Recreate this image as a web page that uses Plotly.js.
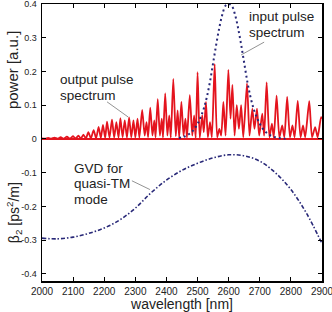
<!DOCTYPE html>
<html>
<head>
<meta charset="utf-8">
<script src="https://cdn.plot.ly/plotly-3.0.1.min.js"></script>
<style>html,body{margin:0;padding:0;background:#fff;}#chart{width:332px;height:312px;}</style>
</head>
<body>
<div id="chart"></div>
<script>
// Output pulse spectrum (wavelength nm, power a.u.)
const outWl = [2000,2010,2020,2030,2040,2050,2060,2070,2080,2090,2100,2108,2117,2125,2133,2141,2149,2157,2166,2174,2182,2189,2196,2203,2209,2217,2225,2232,2239,2246,2252,2259,2266,2273,2280,2287,2294,2300,2307,2313,2322,2330,2336,2341,2348,2355,2361,2365,2372,2379,2385,2389,2396,2403,2409,2414,2422,2430,2436,2441,2448,2455,2461,2466,2475,2483,2489,2494,2500,2507,2515,2520,2527,2533,2540,2546,2555,2563,2570,2576,2583,2590,2599,2606,2612,2619,2626,2633,2640,2647,2659,2667,2676,2683,2691,2698,2708,2714,2722,2731,2739,2745,2754,2763,2772,2779,2788,2797,2805,2812,2822,2831,2839,2846,2859,2868,2878,2886,2897,2900];
const outPow = [0.002,0.001,0.003,0.001,0.004,0.001,0.005,0.001,0.007,0.001,0.008,0.001,0.010,0.001,0.013,0.001,0.020,0.002,0.026,0.002,0.036,0.003,0.042,0.003,0.051,0.004,0.057,0.004,0.050,0.004,0.062,0.005,0.055,0.004,0.064,0.005,0.055,0.004,0.060,0.004,0.086,0.010,0.050,0.005,0.093,0.010,0.055,0.005,0.118,0.010,0.060,0.004,0.135,0.010,0.070,0.004,0.178,0.008,0.085,0.004,0.110,0.010,0.060,0.004,0.130,0.010,0.070,0.003,0.198,0.003,0.070,0.020,0.110,0.005,0.050,0.005,0.222,0.005,0.030,0.010,0.110,0.010,0.205,0.060,0.160,0.010,0.100,0.030,0.100,0.005,0.165,0.010,0.090,0.030,0.090,0.010,0.075,0.010,0.168,0.005,0.045,0.005,0.128,0.005,0.040,0.005,0.125,0.005,0.040,0.005,0.113,0.005,0.040,0.005,0.112,0.005,0.035,0.005,0.065,0.060];

// Input pulse spectrum
const inWl = [2440,2450,2460,2470,2480,2490,2500,2510,2520,2530,2540,2550,2560,2570,2580,2590,2600,2610,2620,2630,2640,2650,2660,2670,2680,2690,2700,2710,2720,2730,2740,2750,2760,2770,2780,2790];
const inPow = [0.003,0.005,0.008,0.013,0.020,0.030,0.045,0.065,0.090,0.125,0.170,0.225,0.280,0.330,0.370,0.395,0.400,0.395,0.370,0.330,0.280,0.225,0.170,0.125,0.090,0.065,0.045,0.030,0.020,0.013,0.008,0.005,0.003,0.002,0.001,0.000];

// GVD for quasi-TM mode (beta2, ps^2/m)
const gvdWl = [2000,2050,2100,2150,2200,2250,2300,2350,2400,2450,2500,2550,2600,2650,2700,2750,2800,2850,2900];
const gvdB2 = [-0.294,-0.296,-0.291,-0.280,-0.264,-0.240,-0.205,-0.160,-0.122,-0.093,-0.072,-0.056,-0.047,-0.050,-0.066,-0.100,-0.150,-0.220,-0.310];

// Ticks
const yTickVals = [0.4,0.3,0.2,0.1,0,-0.1,-0.2,-0.3,-0.4];
const yTickText = ["0.4","0.3","0.2","0.1","0","-0.1","-0.2","-0.3","-0.4"];
const xTickVals = [2000,2100,2200,2300,2400,2500,2600,2700,2800,2900];
const xTickText = ["2000","2100","2200","2300","2400","2500","2600","2700","2800","2900"];

const RED = 'rgb(228,20,30)';
const NAVY = 'rgb(40,40,120)';
const FONT = 'Liberation Sans, Arial, sans-serif';

const traces = [
  {x: gvdWl, y: gvdB2, mode: 'lines', line: {color: NAVY, width: 1.6, dash: '4px,2px,1.5px,2px', shape: 'spline'}, hoverinfo: 'skip'},
  {x: outWl, y: outPow, mode: 'lines', line: {color: RED, width: 1.8, shape: 'spline', smoothing: 0.6}, hoverinfo: 'skip'},
  {x: inWl, y: inPow, mode: 'lines', line: {color: NAVY, width: 2, dash: '2px,3px', shape: 'spline'}, hoverinfo: 'skip'}
];

const annFont = {family: FONT, size: 13.5, color: '#222'};
const ann = (x, y, t) => ({x: x, y: y, xref: 'x', yref: 'y', text: t, showarrow: false, xanchor: 'left', yanchor: 'middle', font: annFont});

const layout = {
  width: 332, height: 312,
  margin: {l: 42, r: 10, t: 4, b: 31, pad: 0},
  paper_bgcolor: '#fff', plot_bgcolor: '#fff',
  showlegend: false,
  font: {family: FONT, color: '#222'},
  xaxis: {
    range: [2000, 2900], tickvals: xTickVals, ticktext: xTickText,
    ticks: 'inside', ticklen: 4, tickwidth: 1, tickcolor: '#000',
    showline: true, linecolor: '#000', linewidth: 1.5, mirror: 'ticks',
    showgrid: false, zeroline: false, ticklabeloverflow: 'allow',
    tickfont: {family: FONT, size: 10, color: '#222'},
    title: {text: 'wavelength [nm]', font: {family: FONT, size: 14, color: '#222'}, standoff: 6}
  },
  yaxis: {
    range: [-0.421, 0.4], tickvals: yTickVals, ticktext: yTickText,
    ticks: 'inside', ticklen: 4, tickwidth: 1, tickcolor: '#000',
    showline: true, linecolor: '#000', linewidth: 1.5, mirror: 'ticks',
    showgrid: false, zeroline: true, zerolinecolor: RED, zerolinewidth: 1.5,
    ticklabeloverflow: 'allow',
    tickfont: {family: FONT, size: 9, color: '#222'},
    ticklabelstandoff: 2
  },
  annotations: [
    ann(2051, 0.175, 'output pulse'), ann(2051, 0.128, 'spectrum'),
    ann(2660, 0.362, 'input pulse'), ann(2660, 0.315, 'spectrum'),
    ann(2096, -0.087, 'GVD for'), ann(2096, -0.133, 'quasi-TM'), ann(2096, -0.178, 'mode'),
    {xref: 'paper', yref: 'paper', x: -0.105, y: 0.76, text: 'power [a.u.]', textangle: -90, showarrow: false,
     xanchor: 'center', yanchor: 'middle', font: {family: FONT, size: 15, color: '#222'}},
    {xref: 'paper', yref: 'paper', x: -0.1, y: 0.245, text: 'β<sub>2</sub> [ps<sup>2</sup>/m]', textangle: -90, showarrow: false,
     xanchor: 'center', yanchor: 'middle', font: {family: FONT, size: 14, color: '#222'}}
  ],
  shapes: [
    {type: 'line', xref: 'x', yref: 'y', x0: 2209, y0: 0.110, x1: 2277, y1: 0.065, line: {color: '#777', width: 0.8}},
    {type: 'line', xref: 'x', yref: 'y', x0: 2714, y0: 0.287, x1: 2640, y1: 0.249, line: {color: '#777', width: 0.8}},
    {type: 'line', xref: 'x', yref: 'y', x0: 2289, y0: -0.124, x1: 2347, y1: -0.150, line: {color: '#777', width: 0.8}}
  ]
};

Plotly.newPlot('chart', traces, layout, {staticPlot: true, displayModeBar: false});
</script>
</body>
</html>
